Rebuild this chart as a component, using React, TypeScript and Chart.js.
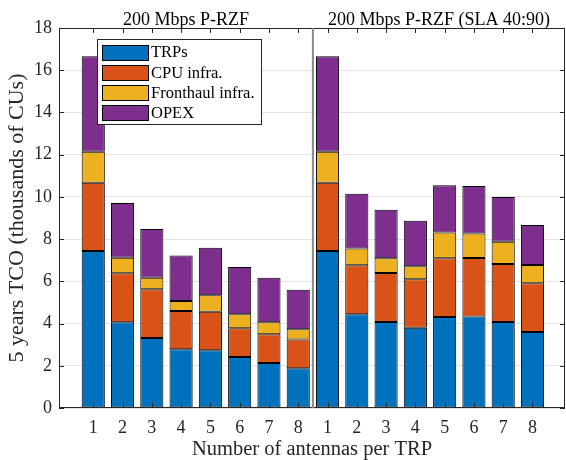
import React, { useEffect, useRef } from 'react';
import { Chart, registerables } from 'chart.js';

Chart.register(...registerables);

const panelTitles = ['200 Mbps P-RZF', '200 Mbps P-RZF (SLA 40:90)'];
const antennaLabels = ['1', '2', '3', '4', '5', '6', '7', '8'];
const seriesNames = ['TRPs', 'CPU infra.', 'Fronthaul infra.', 'OPEX'];
const seriesColors = ['#0072BD', '#D95319', '#EDB120', '#7E2F8E'];

const leftTRP = [7.44, 4.06, 3.32, 2.78, 2.73, 2.42, 2.13, 1.88];
const leftCPU = [3.23, 2.32, 2.3, 1.81, 1.83, 1.36, 1.36, 1.37];
const leftFH = [1.47, 0.74, 0.55, 0.48, 0.78, 0.66, 0.57, 0.48];
const leftOPEX = [4.52, 2.59, 2.31, 2.15, 2.25, 2.24, 2.11, 1.87];

const rightTRP = [7.44, 4.44, 4.07, 3.8, 4.31, 4.34, 4.07, 3.6];
const rightCPU = [3.23, 2.32, 2.32, 2.3, 2.78, 2.77, 2.75, 2.31];
const rightFH = [1.47, 0.8, 0.7, 0.61, 1.22, 1.15, 1.06, 0.86];
const rightOPEX = [4.52, 2.59, 2.3, 2.16, 2.24, 2.26, 2.12, 1.9];

const yTicks = [0, 2, 4, 6, 8, 10, 12, 14, 16, 18];

const FONT = "'Liberation Serif', 'Times New Roman', serif";
const AXIS_COLOR = '#262626';

const leftSeries = [leftTRP, leftCPU, leftFH, leftOPEX];
const rightSeries = [rightTRP, rightCPU, rightFH, rightOPEX];
const nPer = antennaLabels.length;
const positions = [
  ...antennaLabels.map((_, i) => i + 1),
  ...antennaLabels.map((_, i) => i + 1 + nPer),
];

const decorPlugin = {
  id: 'decor',
  afterDatasetsDraw(chart: any) {
    const { ctx, chartArea, scales } = chart;
    const x = scales.x;
    const y = scales.y;
    const { left, right, top, bottom } = chartArea;
    ctx.save();
    ctx.strokeStyle = AXIS_COLOR;
    ctx.lineWidth = 1;
    ctx.strokeRect(left + 0.5, top + 0.5, right - left - 1, bottom - top - 1);
    ctx.beginPath();
    positions.forEach((p) => {
      const px = Math.round(x.getPixelForValue(p)) + 0.5;
      ctx.moveTo(px, bottom);
      ctx.lineTo(px, bottom - 5);
      ctx.moveTo(px, top);
      ctx.lineTo(px, top + 5);
    });
    yTicks.forEach((v) => {
      const py = Math.round(y.getPixelForValue(v)) + 0.5;
      ctx.moveTo(left, py);
      ctx.lineTo(left + 5, py);
      ctx.moveTo(right, py);
      ctx.lineTo(right - 5, py);
    });
    ctx.stroke();
    const divX = x.getPixelForValue(nPer + 0.5);
    ctx.strokeStyle = '#8a8a8a';
    ctx.lineWidth = 2;
    ctx.beginPath();
    ctx.moveTo(divX, top);
    ctx.lineTo(divX, bottom);
    ctx.stroke();
    ctx.restore();
  },
  afterDraw(chart: any) {
    const { ctx, chartArea, scales } = chart;
    const x = scales.x;
    const divX = x.getPixelForValue(nPer + 0.5);
    ctx.save();
    ctx.fillStyle = '#000';
    ctx.font = `18px ${FONT}`;
    ctx.textAlign = 'center';
    ctx.textBaseline = 'alphabetic';
    ctx.fillText(panelTitles[0], (chartArea.left + divX) / 2, 25);
    ctx.fillText(panelTitles[1], (divX + chartArea.right) / 2, 25);
    const bx = 97.5, by = 39.5, bw = 164, bh = 85;
    ctx.fillStyle = '#fff';
    ctx.fillRect(bx, by, bw, bh);
    ctx.strokeStyle = AXIS_COLOR;
    ctx.lineWidth = 1;
    ctx.strokeRect(bx, by, bw, bh);
    ctx.font = `16.5px ${FONT}`;
    ctx.textAlign = 'left';
    ctx.textBaseline = 'middle';
    seriesNames.forEach((name, i) => {
      const cy = 52 + i * 20.2;
      ctx.fillStyle = seriesColors[i];
      ctx.fillRect(102, Math.round(cy - 7.5), 46, 15);
      ctx.strokeStyle = '#000';
      ctx.strokeRect(102.5, Math.round(cy - 7.5) + 0.5, 46, 15);
      ctx.fillStyle = '#000';
      ctx.fillText(name, 151, cy + 1);
    });
    ctx.restore();
  },
};

export default function App() {
  const ref = useRef<HTMLCanvasElement>(null);
  useEffect(() => {
    document.body.style.margin = '0';
    const canvas = ref.current;
    if (!canvas) return;
    const datasets = seriesNames.map((name, s) => ({
      label: name,
      data: [
        ...leftSeries[s].map((v, i) => ({ x: i + 1, y: v })),
        ...rightSeries[s].map((v, i) => ({ x: i + 1 + nPer, y: v })),
      ],
      backgroundColor: seriesColors[s],
      borderColor: '#000',
      borderWidth: 1,
      borderSkipped: false,
      barPercentage: 0.79,
      categoryPercentage: 1,
    }));
    const chart = new Chart(canvas, {
      type: 'bar',
      data: { datasets },
      plugins: [decorPlugin],
      options: {
        animation: false,
        responsive: false,
        devicePixelRatio: 1,
        layout: { padding: { top: 28, right: 1, left: 0, bottom: 0 } },
        plugins: { legend: { display: false }, tooltip: { enabled: false } },
        scales: {
          x: {
            type: 'linear',
            stacked: true,
            min: 0.37,
            max: 16.57,
            grid: { display: false },
            border: { display: false },
            afterBuildTicks: (scale: any) => {
              scale.ticks = positions.map((p) => ({ value: p }));
            },
            afterFit: (scale: any) => {
              scale.height = 52;
            },
            ticks: {
              autoSkip: false,
              maxRotation: 0,
              padding: 1,
              color: AXIS_COLOR,
              font: { family: FONT, size: 18 },
              callback: (v: any) => antennaLabels[(Math.round(v) - 1) % nPer],
            },
            title: {
              display: true,
              text: 'Number of antennas per TRP',
              color: AXIS_COLOR,
              font: { family: FONT, size: 20.5, lineHeight: 1 },
              padding: { top: 0, bottom: 0 },
            },
          },
          y: {
            stacked: true,
            min: 0,
            max: 18,
            grid: { color: '#e3e3e3', drawTicks: false },
            border: { display: false },
            afterBuildTicks: (scale: any) => {
              scale.ticks = yTicks.map((v) => ({ value: v }));
            },
            afterFit: (scale: any) => {
              scale.width = 59;
            },
            ticks: {
              padding: 7,
              color: AXIS_COLOR,
              font: { family: FONT, size: 18 },
            },
            title: {
              display: true,
              text: '5 years TCO (thousands of CUs)',
              color: AXIS_COLOR,
              font: { family: FONT, size: 22, lineHeight: 1.2 },
              padding: { top: 4, bottom: 0 },
            },
          },
        },
      },
    } as any);
    return () => chart.destroy();
  }, []);
  return (
    <div style={{ width: 566, height: 460 }}>
      <canvas ref={ref} width={566} height={460} />
    </div>
  );
}
